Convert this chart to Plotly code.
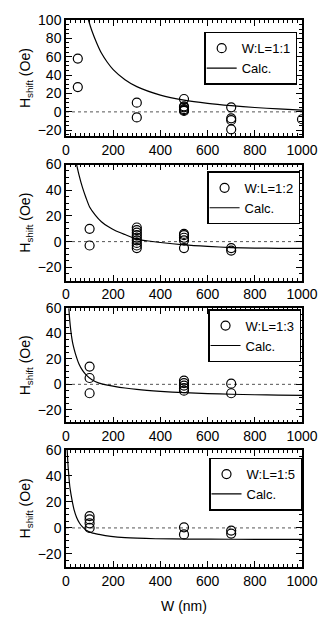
import plotly.graph_objects as go

# ---------------- data ----------------
labels = ["W:L=1:1", "W:L=1:2", "W:L=1:3", "W:L=1:5"]

meas_w1 = [50, 50, 300, 300, 500, 500, 500, 500, 500, 500, 700, 700, 700, 700, 1000]
meas_h1 = [58, 27, 10, -6, 14, 6, 5, 3, 2, 1, 5, -7, -9, -19, -8]
calc_w1 = [95, 110, 130, 150, 175, 200, 250, 300, 400, 500, 600, 700, 800, 900, 1000]
calc_h1 = [100, 88, 75, 64, 54, 46, 35, 27.5, 18.3, 12.8, 9.3, 6.8, 4.8, 3.2, 2]

meas_w2 = [100, 100, 300, 300, 300, 300, 300, 300, 300, 300, 300, 500, 500, 500, 500, 500, 700, 700]
meas_h2 = [10, -3, 11, 9, 7, 5, 3, 1, -1, -3, -5, 6, 5, 3, 1, -5, -5, -7]
calc_w2 = [45, 55, 70, 85, 100, 125, 150, 180, 210, 250, 300, 350, 400, 500, 600, 700, 800, 900, 1000]
calc_h2 = [60, 52, 42, 34, 27, 20.5, 15.5, 11.5, 8.5, 5.5, 2, 0.5, -0.7, -2.5, -3.7, -4.6, -5, -5.2, -5.3]

meas_w3 = [100, 100, 100, 500, 500, 500, 500, 500, 700, 700]
meas_h3 = [14, 5, -7, 3, 1, -1, -3, -5, 0.5, -7]
calc_w3 = [12, 16, 20, 25, 30, 40, 55, 70, 85, 110, 140, 170, 210, 250, 300, 400, 500, 600, 700, 800, 900, 1000]
calc_h3 = [60, 50, 43, 36, 31, 24, 16, 11, 7.5, 3.6, 1, -0.4, -1.8, -2.9, -4, -5.5, -6.6, -7.3, -7.8, -8.2, -8.5, -8.7]

meas_w4 = [100, 100, 100, 100, 500, 500, 700, 700]
meas_h4 = [9, 6.5, 3.5, 0, 0.5, -5, -2, -4.3]
calc_w4 = [5, 7, 9, 12, 16, 21, 28, 34, 45, 57, 70, 84, 110, 140, 190, 250, 380, 520, 700, 1000]
calc_h4 = [60, 53, 47, 40, 32, 26, 19, 14, 8, 3.8, 0.8, -1.5, -3.8, -5, -6.5, -7.5, -8.3, -8.6, -8.7, -8.8]

y_ranges = [[-26.5, 100], [-30.5, 60], [-30, 60], [-30, 60]]
x_range = [0, 1000]
y_minor = [5, 5, 5, 5]

meas = [(meas_w1, meas_h1), (meas_w2, meas_h2), (meas_w3, meas_h3), (meas_w4, meas_h4)]
calc = [(calc_w1, calc_h1), (calc_w2, calc_h2), (calc_w3, calc_h3), (calc_w4, calc_h4)]

# ---------------- layout geometry ----------------
W, H = 330, 624
ml, mr, mt, mb = 66, 19, 15, 49
plot_h = H - mt - mb
panels_px = [(15, 134), (163, 282), (310, 427), (455, 575)]  # top,bottom in px
legend_px = [(306, 27), (309, 170), (310, 311), (311, 463)]  # right, top in px

def py(p):
    return (H - mb - p) / plot_h

def px(p):
    return (p - ml) / (W - ml - mr)

font = "Liberation Sans, Arial, Helvetica, sans-serif"

fig = go.Figure()
layout = dict(
    width=W, height=H,
    margin=dict(l=ml, r=mr, t=mt, b=mb),
    paper_bgcolor="white", plot_bgcolor="white",
    font=dict(family=font, size=14, color="black"),
    shapes=[],
)

for i in range(4):
    n = "" if i == 0 else str(i + 1)
    xa, ya = "x" + n, "y" + n
    lg = "legend" + n
    fig.add_trace(go.Scatter(
        x=meas[i][0], y=meas[i][1], mode="markers", name=labels[i],
        marker=dict(symbol="circle-open", size=9, color="black", line=dict(width=1.2, color="black")),
        xaxis=xa, yaxis=ya, legend=lg,
    ))
    fig.add_trace(go.Scatter(
        x=calc[i][0], y=calc[i][1], mode="lines", name="Calc.",
        line=dict(color="black", width=1.2, shape="spline", smoothing=0.6),
        xaxis=xa, yaxis=ya, legend=lg,
    ))
    top, bot = panels_px[i]
    common = dict(
        showline=True, linecolor="black", linewidth=1.5, mirror="ticks",
        ticks="inside", ticklen=6, tickwidth=1, tickcolor="black",
        showgrid=False, zeroline=False,
        tickfont=dict(family=font, size=14, color="black"),
    )
    layout["xaxis" + n] = dict(
        common, domain=[0, 1], anchor=ya, range=x_range, dtick=200, tick0=0,
        minor=dict(dtick=20, ticklen=3, ticks="inside", tickcolor="black", showgrid=False),
    )
    if i == 3:
        layout["xaxis" + n]["title"] = dict(text="W (nm)", font=dict(family=font, size=14), standoff=14)
    layout["yaxis" + n] = dict(
        common, domain=[py(bot), py(top)], anchor=xa, range=y_ranges[i], dtick=20, tick0=0,
        minor=dict(dtick=y_minor[i], ticklen=3, ticks="inside", tickcolor="black", showgrid=False),
        title=dict(text="H<sub>shift</sub> (Oe)", font=dict(family=font, size=14), standoff=4),
    )
    layout["shapes"].append(dict(
        type="line", xref=xa + " domain", yref=ya, x0=0, x1=1, y0=0, y1=0,
        line=dict(color="#555555", width=1, dash="dot"), layer="below",
    ))
    r, t = legend_px[i]
    layout[lg] = dict(
        x=px(r), y=py(t), xanchor="right", yanchor="top",
        bordercolor="black", borderwidth=1.5, bgcolor="white",
        font=dict(family=font, size=13, color="black"),
        itemwidth=30, tracegroupgap=0, indentation=-4,
    )

fig.update_layout(**layout)
fig.write_html("out.html", config={"displayModeBar": False},
               post_script="document.body.style.margin='0px';")
